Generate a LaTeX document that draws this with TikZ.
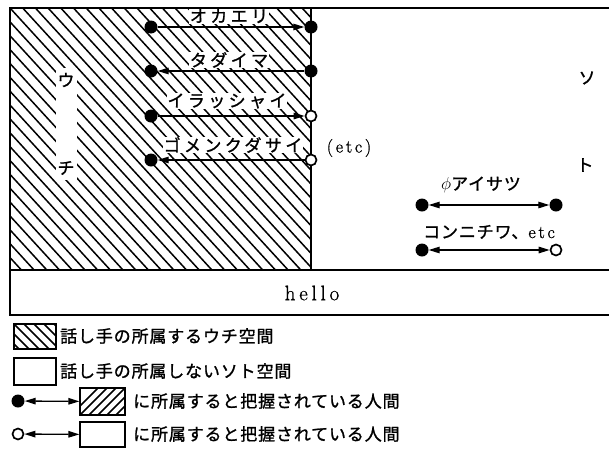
\documentclass[tikz,border=0pt]{standalone}
\usepackage{fontspec}
\newfontfamily\jplab[LetterSpace=20,FakeBold=1.2]{Noto Sans CJK JP}
\newfontfamily\jpleg[LetterSpace=5,FakeBold=1.2]{Noto Sans CJK JP}
\newfontfamily\jpone[FakeBold=1.2]{Noto Sans CJK JP}
\newfontfamily\latsp[LetterSpace=15,FakeBold=0.8]{Latin Modern Roman}
\usetikzlibrary{arrows.meta}
\tikzset{
  frame/.style={line width=1.4pt},
  divider/.style={line width=1.1pt},
  hatch/.style={line width=1.5pt},
  fdot/.style={circle,fill=black,inner sep=0pt,minimum size=13pt},
  odot/.style={circle,draw=black,line width=1.7pt,fill=white,inner sep=0pt,minimum size=11pt},
  arr/.style={line width=1.3pt,>={Triangle[length=11pt,width=6.5pt]}},
  lab/.style={inner sep=0.5pt,fill=white,font=\fontsize{17}{17}\jplab},
  single/.style={inner sep=0pt,font=\fontsize{17}{17}\jpone},
  latin/.style={inner sep=0pt,font=\fontsize{18}{18}\latsp},
  leg/.style={inner sep=0pt,anchor=west,font=\fontsize{17}{17}\jpleg},
  legbox/.style={draw=black,line width=1.3pt,inner sep=0pt,minimum width=#1},
}
\begin{document}
\begin{tikzpicture}[x=1pt,y=-1pt]
\useasboundingbox (0,0) rectangle (609,450);
% hatched Uchi area
\begin{scope}
  \clip (10,8) rectangle (311,270);
  \foreach \i in {-20,...,25} \draw[hatch] ({10+12.7*\i},8) -- ++(240,262);
\end{scope}
\fill[white] (56,68) rectangle (77,180);
% greetings inside (labels)
\node[lab] (okaeri) at (229,16) {オカエリ};
\node[lab] (tadaima) at (229,60) {タダイマ};
\node[lab] (irassh) at (227,101) {イラッシャイ};
\node[lab] (gomen) at (233,145) {ゴメンクダサイ};
% frame
\draw[frame] (609,8) -- (10,8) -- (10,315) -- (609,315);
\draw[frame] (10,270) -- (609,270);
\draw[divider] (311,8) -- (311,270);
\node[inner sep=0pt,font=\fontsize{21}{21}\latsp\addfontfeature{LetterSpace=18}] (hello) at (312,293) {hello};
% side labels
\node[single] (u) at (66,80) {ウ};
\node[single] (chi) at (66,168) {チ};
\node[single] (so) at (587,78) {ソ};
\node[single] (to) at (585,165) {ト};
\node[latin] (etc1) at (349,148) {(etc)};
\node[fdot] (a1) at (151,27) {};
\node[fdot] (b1) at (311,27) {};
\node[fdot] (a2) at (151,71) {};
\node[fdot] (b2) at (311,71) {};
\node[fdot] (a3) at (151,116) {};
\node[odot] (b3) at (311,116) {};
\node[fdot] (a4) at (151,160) {};
\node[odot] (b4) at (311,160) {};
\draw[arr,->] (a1) -- (b1);
\draw[arr,<-] (a2) -- (b2);
\draw[arr,->] (a3) -- (b3);
\draw[arr,<-] (a4) -- (b4);
% greetings outside
\node[inner sep=0pt,font=\fontsize{17}{17}\jpleg] (aisatsu) at (481,185) {$\phi$アイサツ};
\node[fdot] (c1) at (422,205) {};
\node[fdot] (d1) at (556,205) {};
\draw[arr,<->] (c1) -- (d1);
\node[inner sep=0pt] (konn) at (489,232) {{\fontsize{17}{17}\jpleg コンニチワ、}{\fontsize{18}{18}\latsp etc}};
\node[fdot] (c2) at (422,250) {};
\node[odot] (d2) at (556,250) {};
\draw[arr,<->] (c2) -- (d2);
% legend
\node[legbox=42pt,minimum height=25pt] (k1) at (35,336.5) {};
\begin{scope}
  \clip (14,324) rectangle (56,349);
  \foreach \i in {-4,...,5} \draw[hatch] ({14+10*\i},324) -- ++(25,25);
\end{scope}
\draw[line width=1.3pt] (14,324) rectangle (56,349);
\node[leg] (l1) at (60,336) {話し手の所属するウチ空間};
\node[legbox=42pt,minimum height=27pt] (k2) at (35,371.5) {};
\node[leg] (l2) at (60,371) {話し手の所属しないソト空間};
\node[fdot] (e3) at (18,401) {};
\node[legbox=45pt,minimum height=27pt] (k3) at (102.5,401.5) {};
\begin{scope}
  \clip (80,388) rectangle (125,415);
  \foreach \i in {-1,...,8} \draw[hatch] ({80+9*\i},415) -- ++(27,-27);
\end{scope}
\draw[line width=1.3pt] (80,388) rectangle (125,415);
\draw[arr,<->] (e3) -- (k3);
\node[leg] (l3) at (133,401) {に所属すると把握されている人間};
\node[odot] (e4) at (18,434) {};
\node[legbox=45pt,minimum height=25pt] (k4) at (102.5,434.5) {};
\draw[arr,<->] (e4) -- (k4);
\node[leg] (l4) at (133,434) {に所属すると把握されている人間};
\end{tikzpicture}
\end{document}
